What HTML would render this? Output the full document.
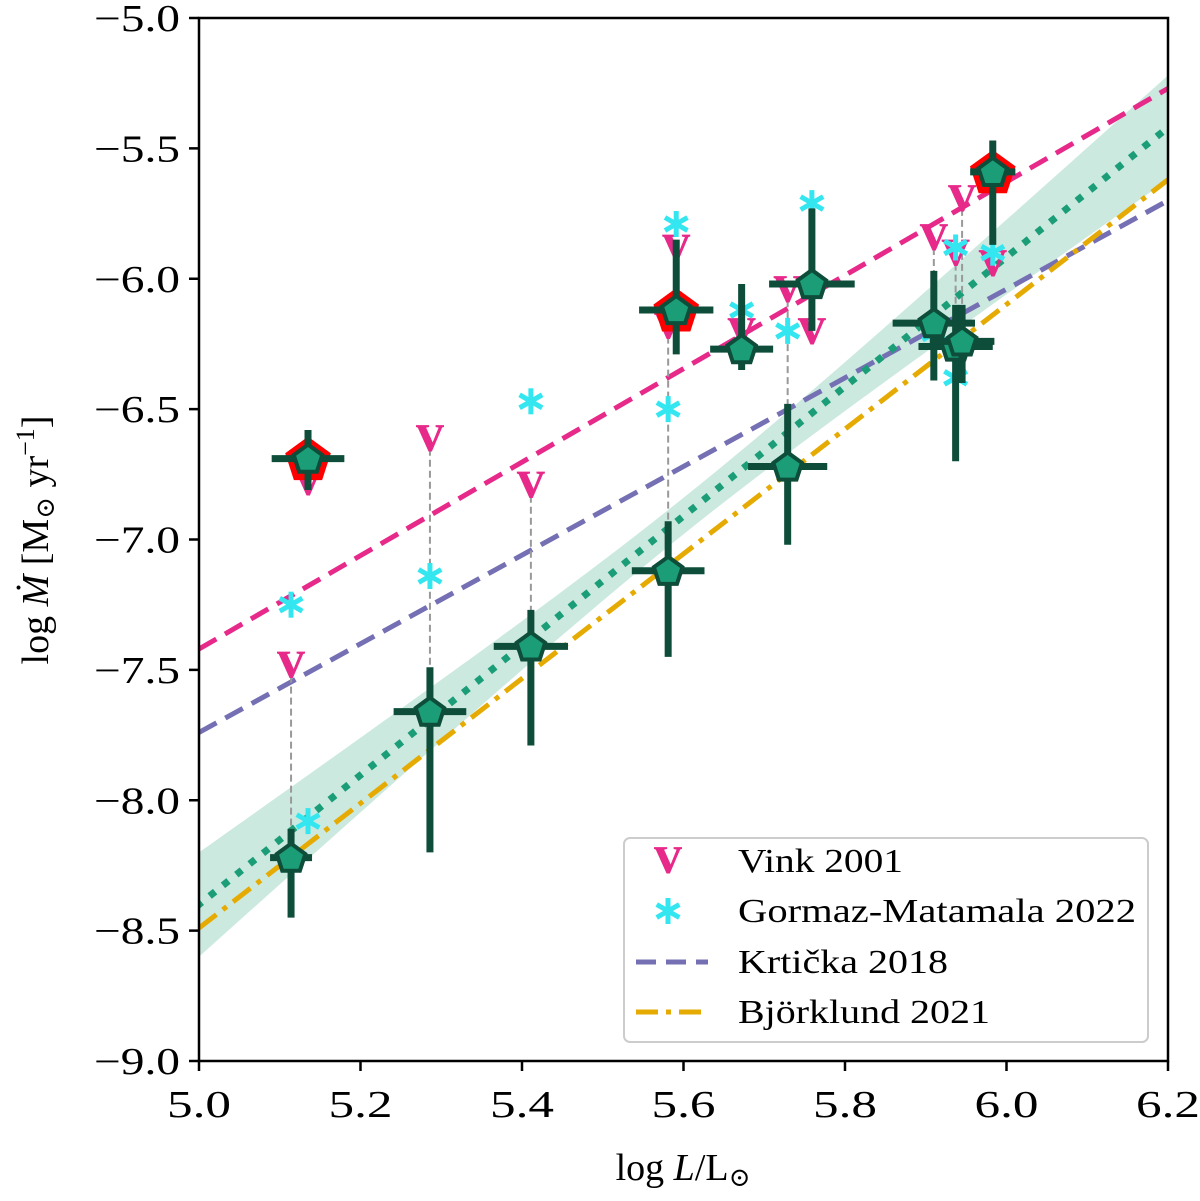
<!DOCTYPE html>
<html><head><meta charset="utf-8">
<style>
html,body{margin:0;padding:0;background:#fff;}
svg{display:block;font-family:"Liberation Serif","DejaVu Serif",serif;}
</style></head>
<body>
<svg id="chart" width="1200" height="1201" viewBox="0 0 1200 1201" xmlns="http://www.w3.org/2000/svg">
<defs><clipPath id="clip"><rect x="199" y="18" width="969" height="1043"/></clipPath></defs>
<g id="plot" clip-path="url(#clip)"></g>
<g id="axes"></g>
</svg>
<script>
const xTicks=[5.0,5.2,5.4,5.6,5.8,6.0,6.2];
const yTicks=[-5.0,-5.5,-6.0,-6.5,-7.0,-7.5,-8.0,-8.5,-9.0];
const obsX=[5.114,5.135,5.286,5.411,5.581,5.591,5.672,5.729,5.759,5.910,5.937,5.945,5.983];
const obsY=[-8.22,-6.69,-7.66,-7.41,-7.12,-6.12,-6.27,-6.72,-6.02,-6.17,-6.26,-6.24,-5.59];
const obsYHi=[-8.11,-6.58,-7.49,-7.27,-6.93,-5.85,-6.02,-6.48,-5.73,-5.97,-6.10,-6.10,-5.47];
const obsYLo=[-8.45,-6.81,-8.20,-7.79,-7.45,-6.29,-6.35,-7.02,-6.20,-6.39,-6.70,-6.40,-5.87];
const obsXErr=[0.026,0.045,0.045,0.046,0.045,0.046,0.039,0.049,0.053,0.051,0.046,0.040,0.028];
const redFlag=[0,1,0,0,0,1,0,0,0,0,0,0,1];
const vinkY=[-7.48,-6.78,-6.61,-6.79,-6.18,-5.88,-6.20,-6.04,-6.20,-5.84,-5.90,-5.69,-5.94];
const gormazY=[-8.08,-7.25,-7.14,-6.47,-6.50,-5.79,-6.12,-6.20,-5.71,-6.21,-5.88,-6.38,-5.90];
const gormazX=[5.135,5.114,5.286,5.411,5.581,5.591,5.672,5.729,5.759,5.910,5.937,5.937,5.983];
const lineX=[5.0,6.2];
const vinkLine=[-7.42,-5.27];
const krtickaLine=[-7.74,-5.70];
const bjorkLine=[-8.49,-5.62];
const fitLine=[-8.40,-5.42];

const NS="http://www.w3.org/2000/svg";
const X=v=>199+(v-5.0)*969/1.2;
const Y=v=>18+(-5.0-v)*1043/4;
const plot=document.getElementById('plot'), axes=document.getElementById('axes');
function el(tag,attrs,parent){const e=document.createElementNS(NS,tag);for(const k in attrs)e.setAttribute(k,attrs[k]);(parent||plot).appendChild(e);return e;}

let up=[],dn=[];
for(let i=0;i<=60;i++){const x=5.0+1.2*i/60;const c=fitLine[0]+(fitLine[1]-fitLine[0])*(x-5)/1.2;
const hw=Math.sqrt(0.0049+0.0975*(x-5.6)*(x-5.6));up.push(X(x)+','+Y(c+hw));dn.unshift(X(x)+','+Y(c-hw));}
const band=el('polygon',{points:up.concat(dn).join(' '),fill:'#cce9e0',stroke:'none'});



function line(vals,stroke,dash,name){const l=el('line',{x1:X(lineX[0]),y1:Y(vals[0]),x2:X(lineX[1]),y2:Y(vals[1]),stroke:stroke,'stroke-width':5,'stroke-dasharray':dash});

}
line(vinkLine,'#e7298a','20 10','vink-relation-line');
line(krtickaLine,'#7570b3','20 10','krticka-relation-line');
line(bjorkLine,'#e6ab02','22 8 5 8','bjorklund-relation-line');
const fl=el('line',{x1:X(lineX[0]),y1:Y(fitLine[0]),x2:X(lineX[1]),y2:Y(fitLine[1]),stroke:'#1b9e77','stroke-width':7,'stroke-dasharray':'0.1 17','stroke-linecap':'square'});



obsX.forEach((x,i)=>{const c=el('line',{x1:X(x),y1:Y(vinkY[i]),x2:X(x),y2:Y(obsY[i]),stroke:'#999','stroke-width':2,'stroke-dasharray':'7 4'});

});

function star(cx,cy,r,parent){const g=el('g',{stroke:'#33e6f0','stroke-width':5,'stroke-linecap':'butt'},parent);
for(let k=0;k<3;k++){const a=Math.PI/2+k*Math.PI/3;el('line',{x1:cx+r*Math.cos(a),y1:cy+r*Math.sin(a),x2:cx-r*Math.cos(a),y2:cy-r*Math.sin(a)},g);}return g;}
function vmark(cx,cy,parent){const t=el('text',{x:cx,y:cy+13,'text-anchor':'middle','font-size':56,'font-weight':'bold',fill:'#e7298a'},parent);t.textContent='v';return t;}

obsX.forEach((x,i)=>{const v=vmark(X(x),Y(vinkY[i]));

});
gormazX.forEach((x,i)=>{const s=star(X(x),Y(gormazY[i]),13);

});

function pent(cx,cy,r){let p=[];for(let k=0;k<5;k++){const a=-Math.PI/2+k*2*Math.PI/5;p.push((cx+r*Math.cos(a))+','+(cy+r*Math.sin(a)));}return p.join(' ');}
obsX.forEach((x,i)=>{const g=el('g',{});


const cx=X(x),cy=Y(obsY[i]);
if(redFlag[i])el('polygon',{points:pent(cx,cy+2,24),fill:'#ff0000'},g);
el('line',{x1:cx,y1:Y(obsYHi[i]),x2:cx,y2:Y(obsYLo[i]),stroke:'#0d4d3a','stroke-width':7},g);
el('line',{x1:X(x-obsXErr[i]),y1:cy,x2:X(x+obsXErr[i]),y2:cy,stroke:'#0d4d3a','stroke-width':7},g);
el('polygon',{points:pent(cx,cy+1,15),fill:'#1b9e77',stroke:'#0d4d3a','stroke-width':4},g);});

const fr=el('rect',{x:199,y:18,width:969,height:1043,fill:'none',stroke:'#000','stroke-width':2.5},axes);


xTicks.forEach(t=>{el('line',{x1:X(t),y1:1061,x2:X(t),y2:1071,stroke:'#000','stroke-width':2.5},axes);
const tx=el('text',{x:X(t),y:1117,'text-anchor':'middle','font-size':38,textLength:64,lengthAdjust:'spacingAndGlyphs'},axes);tx.textContent=t.toFixed(1);

});
yTicks.forEach(t=>{el('line',{x1:189,y1:Y(t),x2:199,y2:Y(t),stroke:'#000','stroke-width':2.5},axes);
const tx=el('text',{x:180,y:Y(t)+13,'text-anchor':'end','font-size':38,textLength:86,lengthAdjust:'spacingAndGlyphs'},axes);tx.textContent='\u2212'+Math.abs(t).toFixed(1);

});
</script>
<svg style="position:absolute;left:0;top:0" width="1200" height="1201" xmlns="http://www.w3.org/2000/svg" font-family="Liberation Serif, serif">
<text x="683" y="1180" text-anchor="middle" font-size="38">log <tspan font-style="italic">L</tspan>/L<tspan font-size="26" dy="6">⊙</tspan></text>
<text transform="translate(48,540) rotate(-90)" text-anchor="middle" font-size="38">log <tspan font-style="italic">Ṁ</tspan> [M<tspan font-size="26" dy="6">⊙</tspan><tspan dy="-6"> yr</tspan><tspan font-size="26" dy="-14">−1</tspan><tspan dy="14">]</tspan></text>
<g>
<rect x="624" y="838" width="524" height="204" rx="6" fill="#fff" fill-opacity="0.85" stroke="#ccc" stroke-width="2"/>
<text x="668" y="873" text-anchor="middle" font-size="56" font-weight="bold" fill="#e7298a">v</text>
<text x="738" y="872" font-size="34" textLength="165" lengthAdjust="spacingAndGlyphs">Vink 2001</text>
<g stroke="#33e6f0" stroke-width="5"><line x1="668" y1="898" x2="668" y2="924"/><line x1="656.7" y1="904.5" x2="679.3" y2="917.5"/><line x1="656.7" y1="917.5" x2="679.3" y2="904.5"/></g>
<text x="738" y="922" font-size="34" textLength="398" lengthAdjust="spacingAndGlyphs">Gormaz-Matamala 2022</text>
<line x1="636" y1="962" x2="708" y2="962" stroke="#7570b3" stroke-width="5" stroke-dasharray="20 10"/>
<text x="738" y="973" font-size="34" textLength="210" lengthAdjust="spacingAndGlyphs">Krtička 2018</text>
<line x1="636" y1="1012" x2="708" y2="1012" stroke="#e6ab02" stroke-width="5" stroke-dasharray="22 8 5 8"/>
<text x="738" y="1023" font-size="34" textLength="252" lengthAdjust="spacingAndGlyphs">Björklund 2021</text>
</g>
</svg>
</body></html>
